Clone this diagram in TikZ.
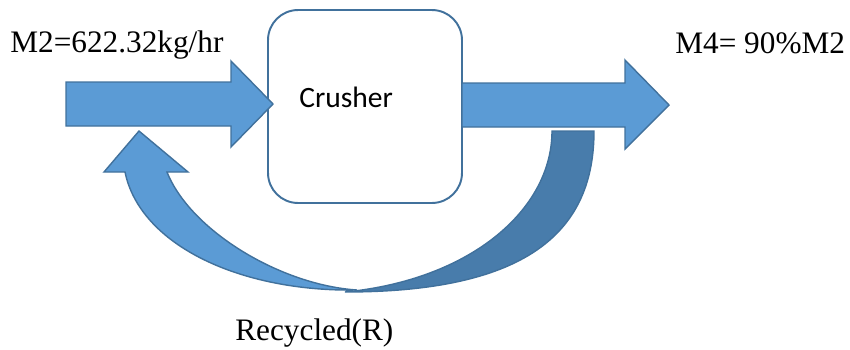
\documentclass[tikz,border=0pt]{standalone}
\usepackage{fontspec}
\setmainfont{Liberation Serif}
\newfontfamily\carlito{Carlito}
\usepackage{xcolor}
\usetikzlibrary{calc}

\definecolor{flowblue}{HTML}{5B9BD5}
\definecolor{backblue}{HTML}{487CAB}
\definecolor{edgeblue}{HTML}{41719C}

\begin{document}
\begin{tikzpicture}[
  x=0.02cm, y=-0.02cm,
  unit/.style={draw=edgeblue, line width=1.1pt, rounded corners=0.6cm, fill=white,
               minimum width=3.88cm, minimum height=3.86cm},
  flow/.style={fill=flowblue, draw=edgeblue, line width=0.8pt},
  backflow/.style={fill=backblue, draw=edgeblue, line width=0.8pt},
  lbl/.style={font=\fontsize{17.8}{21}\selectfont, anchor=base west, inner sep=0pt}
]
  \useasboundingbox (0,0) rectangle (850,349);

  % Crusher unit
  \node[unit] (crusher) at (365,106.5) {};
  \node[font=\carlito\fontsize{16.8}{20}\selectfont, anchor=base west, inner sep=0pt]
    (crushtxt) at (299,107) {Crusher};

  % Feed and product streams
  \draw[flow] (66,82) -- (231,82) -- (231,61) -- (273,104) -- (231,147)
    -- (231,126) -- (66,126) -- cycle;
  \draw[flow] (462,83) -- (625,83) -- (625,60) -- (669,105) -- (625,149)
    -- (625,127) -- (462,127) -- cycle;

  % Recycle loop (back face first)
  \draw[backflow] (552,131) -- (594,131) .. controls (594,230) and (530,292) .. (345,292)
    .. controls (470,280) and (552,210) .. cycle;
  \draw[flow] (139,131) -- (188,172) -- (167,172) .. controls (190,230) and (280,285) .. (357,290)
    .. controls (240,292) and (140,245) .. (125,172) -- (104,172) -- cycle;

  % Labels
  \node[lbl] (feed) at (10,52) {M2=622.32kg/hr};
  \node[lbl] (prod) at (675,53) {M4= 90\%M2};
  \node[lbl] (recy) at (235,340) {Recycled(R)};
\end{tikzpicture}
\end{document}
